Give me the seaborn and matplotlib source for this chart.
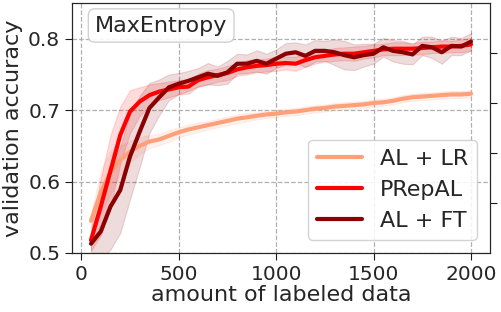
import numpy as np
import pandas as pd
import matplotlib
matplotlib.use("Agg")
import matplotlib.pyplot as plt
import seaborn as sns

# amount of labeled data
steps = np.arange(50, 2001, 50)

# mean validation accuracy
acc_lr = [0.545, 0.585, 0.613, 0.630, 0.642, 0.650, 0.656, 0.659, 0.664, 0.669,
          0.673, 0.676, 0.679, 0.682, 0.685, 0.688, 0.690, 0.692, 0.694, 0.695,
          0.697, 0.698, 0.700, 0.702, 0.703, 0.705, 0.706, 0.707, 0.708, 0.710,
          0.711, 0.713, 0.716, 0.718, 0.719, 0.720, 0.721, 0.722, 0.722, 0.723]
acc_prep = [0.518, 0.565, 0.615, 0.665, 0.698, 0.712, 0.721, 0.726, 0.729, 0.732,
            0.733, 0.742, 0.746, 0.749, 0.752, 0.757, 0.760, 0.762, 0.763, 0.765,
            0.766, 0.765, 0.770, 0.774, 0.776, 0.778, 0.779, 0.779, 0.781, 0.783,
            0.785, 0.786, 0.786, 0.786, 0.787, 0.788, 0.789, 0.789, 0.790, 0.792]
acc_ft = [0.513, 0.530, 0.565, 0.588, 0.635, 0.670, 0.703, 0.718, 0.732, 0.737,
          0.741, 0.746, 0.751, 0.748, 0.753, 0.765, 0.765, 0.769, 0.765, 0.772,
          0.779, 0.781, 0.776, 0.783, 0.783, 0.781, 0.777, 0.774, 0.777, 0.779,
          0.788, 0.783, 0.781, 0.778, 0.790, 0.788, 0.781, 0.790, 0.789, 0.796]

# spread (half width of shaded band)
std_lr = [0.010, 0.030, 0.030, 0.020, 0.015, 0.012, 0.009, 0.008, 0.008, 0.007,
          0.007, 0.007, 0.006, 0.006, 0.006, 0.006, 0.006, 0.005, 0.005, 0.005,
          0.005, 0.005, 0.005, 0.005, 0.005, 0.005, 0.005, 0.005, 0.005, 0.005,
          0.005, 0.005, 0.005, 0.005, 0.005, 0.005, 0.005, 0.005, 0.005, 0.005]
std_prep = [0.015, 0.040, 0.050, 0.040, 0.030, 0.020, 0.015, 0.012, 0.011, 0.010,
            0.010, 0.009, 0.010, 0.009, 0.010, 0.009, 0.010, 0.009, 0.009, 0.010,
            0.009, 0.010, 0.009, 0.009, 0.008, 0.009, 0.009, 0.010, 0.009, 0.009,
            0.008, 0.009, 0.009, 0.008, 0.009, 0.008, 0.009, 0.008, 0.009, 0.009]
std_ft = [0.015, 0.040, 0.060, 0.060, 0.060, 0.050, 0.035, 0.025, 0.018, 0.015,
          0.014, 0.013, 0.015, 0.013, 0.016, 0.014, 0.013, 0.015, 0.014, 0.013,
          0.015, 0.014, 0.016, 0.015, 0.014, 0.018, 0.020, 0.018, 0.016, 0.014,
          0.013, 0.015, 0.016, 0.014, 0.013, 0.015, 0.016, 0.013, 0.012, 0.012]

methods = ["AL + LR", "PRepAL", "AL + FT"]
colors = {"AL + LR": "#FFA07A", "PRepAL": "#FF0000", "AL + FT": "#8B0000"}

df = pd.DataFrame({
    "amount": np.tile(steps, 3),
    "acc": acc_lr + acc_prep + acc_ft,
    "std": std_lr + std_prep + std_ft,
    "method": np.repeat(methods, len(steps)),
})

sns.set_style("ticks")
plt.rcParams["font.family"] = ["DejaVu Sans"]

fig = plt.figure(figsize=(5.02, 3.12), dpi=100)
ax = fig.add_axes([72 / 502, 59 / 312, 418 / 502, 250 / 312])

for m in methods:
    sub = df[df.method == m]
    ax.fill_between(sub.amount, sub.acc - sub["std"], sub.acc + sub["std"],
                    color=colors[m], alpha=0.14, lw=0.8)

sns.lineplot(data=df, x="amount", y="acc", hue="method", palette=colors,
             hue_order=methods, lw=3, ax=ax)

ax.set_ylim(0.5, 0.85)
ax.set_yticks([0.5, 0.6, 0.7, 0.8])
ax.set_xticks([0, 500, 1000, 1500, 2000])
ax.tick_params(labelsize=14.5, length=5, color="0.1")
ax.grid(True, ls="--", color="#b0b0b0", lw=0.9)
for s in ax.spines.values():
    s.set_color("0.1")
ax.set_xlabel("amount of labeled data", fontsize=16, labelpad=1)
ax.set_ylabel("validation accuracy", fontsize=16, labelpad=4)

leg = ax.legend(loc="lower right", fontsize=16, framealpha=0.85,
                handlelength=2.0, borderaxespad=0.6)
for line in leg.get_lines():
    line.set_linewidth(3)

ax.text(0.055, 0.95, "MaxEntropy", transform=ax.transAxes, fontsize=16,
        va="top", ha="left",
        bbox=dict(boxstyle="round,pad=0.3", fc="white", ec="#cccccc", alpha=0.9))

ax2 = ax.twinx()
ax2.set_ylim(0, 5)
ax2.set_yticks([1, 2, 3, 4])
ax2.set_yticklabels([])
ax2.tick_params(length=5, color="0.1")

fig.savefig("out.png", dpi=100)
